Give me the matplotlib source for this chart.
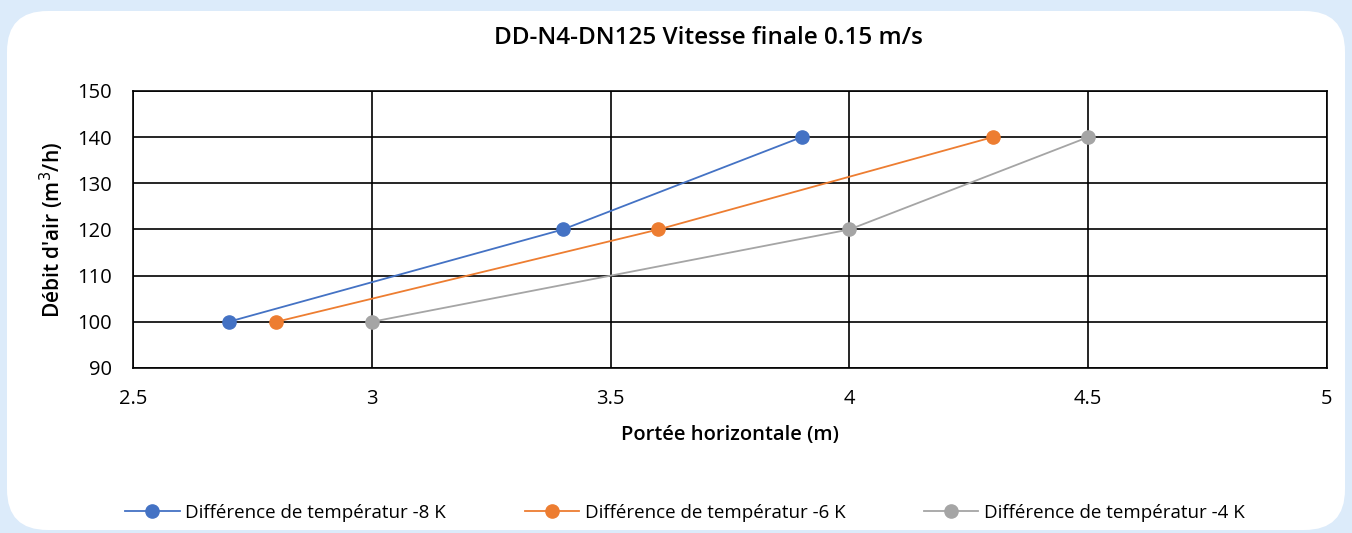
import matplotlib.pyplot as plt
from matplotlib.patches import FancyBboxPatch

plt.rcParams['font.family'] = ['Open Sans', 'DejaVu Sans']

# Débit d'air en fonction de la portée horizontale
debit = [100, 120, 140]
portee_8k = [2.7, 3.4, 3.9]
portee_6k = [2.8, 3.6, 4.3]
portee_4k = [3.0, 4.0, 4.5]
labels = ['Différence de températur -8 K',
          'Différence de températur -6 K',
          'Différence de températur -4 K']
colors = ['#4472C4', '#ED7D31', '#A5A5A5']

fig = plt.figure(figsize=(13.52, 5.33), dpi=100, facecolor='#dcebfa')

# panneau blanc arrondi
panel = FancyBboxPatch((7 / 1352, 3 / 533), 1338 / 1352, 519 / 533,
                       boxstyle='round,pad=0,rounding_size=0.03',
                       transform=fig.transFigure, facecolor='white',
                       edgecolor='none', mutation_aspect=1352 / 533, zorder=-10)
fig.patches.append(panel)

ax = fig.add_axes([0.0984, 0.3096, 0.8831, 0.5197])
ax.set_facecolor('white')

for xs, lab, c in zip([portee_8k, portee_6k, portee_4k], labels, colors):
    ax.plot(xs, debit, color=c, lw=1.3, marker='o', markersize=9.5, label=lab, zorder=3)

ax.set_xlim(2.5, 5)
ax.set_ylim(90, 150)
ax.set_xticks([2.5, 3, 3.5, 4, 4.5, 5])
ax.set_xticklabels(['2.5', '3', '3.5', '4', '4.5', '5'])
ax.set_yticks(range(90, 151, 10))
ax.grid(True, color='black', lw=1.2)
ax.set_axisbelow(True)
for s in ax.spines.values():
    s.set_color('black')
    s.set_linewidth(1.2)
ax.tick_params(axis='x', length=0, labelsize=14.5, pad=15)
ax.tick_params(axis='y', length=0, labelsize=14.5, pad=15)

ax.set_title('DD-N4-DN125 Vitesse finale 0.15 m/s', fontsize=17.5, pad=34,
             fontweight='semibold', x=0.482)
ax.set_xlabel('Portée horizontale (m)', fontsize=14.5, fontweight='semibold', labelpad=12)
ax.set_ylabel("Débit d'air (m$^3$/h)", fontsize=15, fontweight='semibold', labelpad=8)

fig.legend(loc='center', bbox_to_anchor=(0.5067, 0.038), ncol=3, frameon=False,
           fontsize=13.5, handlelength=2.9, columnspacing=4.2, handletextpad=0.3)

fig.savefig('out.png', dpi=100, facecolor=fig.get_facecolor())
